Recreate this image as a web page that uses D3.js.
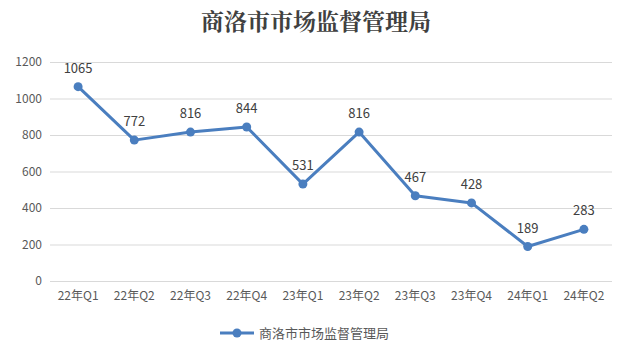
<!DOCTYPE html>
<html><head><meta charset="utf-8">
<script src="https://cdn.jsdelivr.net/npm/d3@7"></script>
<style>body{margin:0;background:#fff;}</style>
</head><body>
<svg id="c" width="630" height="357"></svg>
<script>
const title = "商洛市市场监督管理局";
const categories = ["22年Q1","22年Q2","22年Q3","22年Q4","23年Q1","23年Q2","23年Q3","23年Q4","24年Q1","24年Q2"];
const values = [1065,772,816,844,531,816,467,428,189,283];
const yTicks = [0,200,400,600,800,1000,1200];
const seriesName = "商洛市市场监督管理局";

const svg = d3.select("#c");
const color = "#4a7ebf";
const x = d3.scaleBand().domain(categories).range([50, 612]);
const y = d3.scaleLinear().domain([0, 1200]).range([281, 62]);
const font = "'Noto Sans CJK SC','Noto Sans',sans-serif";

svg.append("text").attr("x", 316).attr("y", 30).attr("text-anchor", "middle")
  .attr("font-family", "'Noto Serif CJK SC','Noto Sans CJK SC',serif").attr("font-weight", "bold")
  .attr("font-size", 23).attr("fill", "#404040").text(title);

const yAxis = d3.axisLeft(y).tickValues(yTicks).tickFormat(d3.format("d")).tickSize(-(612 - 50)).tickPadding(8);
const gy = svg.append("g").attr("transform", "translate(50,0)").call(yAxis);
gy.select(".domain").remove();
gy.selectAll(".tick line").attr("stroke", "#d9d9d9").attr("stroke-width", 1);
gy.selectAll(".tick text").attr("font-family", font).attr("font-size", 12).attr("fill", "#595959");

const xAxis = d3.axisBottom(x).tickSize(0).tickPadding(10);
const gx = svg.append("g").attr("transform", "translate(0,281)").call(xAxis);
gx.select(".domain").remove();
gx.selectAll(".tick text").attr("font-family", font).attr("font-size", 12).attr("fill", "#595959");

const cx = d => x(d) + x.bandwidth() / 2;
const line = d3.line().x((d, i) => cx(categories[i])).y(d => y(d));
svg.append("path").datum(values).attr("d", line).attr("fill", "none")
  .attr("stroke", color).attr("stroke-width", 3).attr("stroke-linejoin", "round");
svg.selectAll("circle.pt").data(values).join("circle").attr("class", "pt")
  .attr("cx", (d, i) => cx(categories[i])).attr("cy", d => y(d)).attr("r", 4.5).attr("fill", color);
svg.selectAll("text.lbl").data(values).join("text").attr("class", "lbl")
  .attr("x", (d, i) => cx(categories[i])).attr("y", d => y(d) - 14)
  .attr("text-anchor", "middle").attr("font-family", font).attr("font-size", 13)
  .attr("fill", "#404040").text(d => d);

const lg = svg.append("g").attr("transform", "translate(220,333)");
lg.append("line").attr("x1", 0).attr("x2", 34).attr("y1", 0).attr("y2", 0).attr("stroke", color).attr("stroke-width", 3);
lg.append("circle").attr("cx", 17).attr("cy", 0).attr("r", 4.5).attr("fill", color);
lg.append("text").attr("x", 39).attr("y", 5).attr("font-family", font).attr("font-size", 13)
  .attr("fill", "#595959").text(seriesName);
</script>
</body></html>
